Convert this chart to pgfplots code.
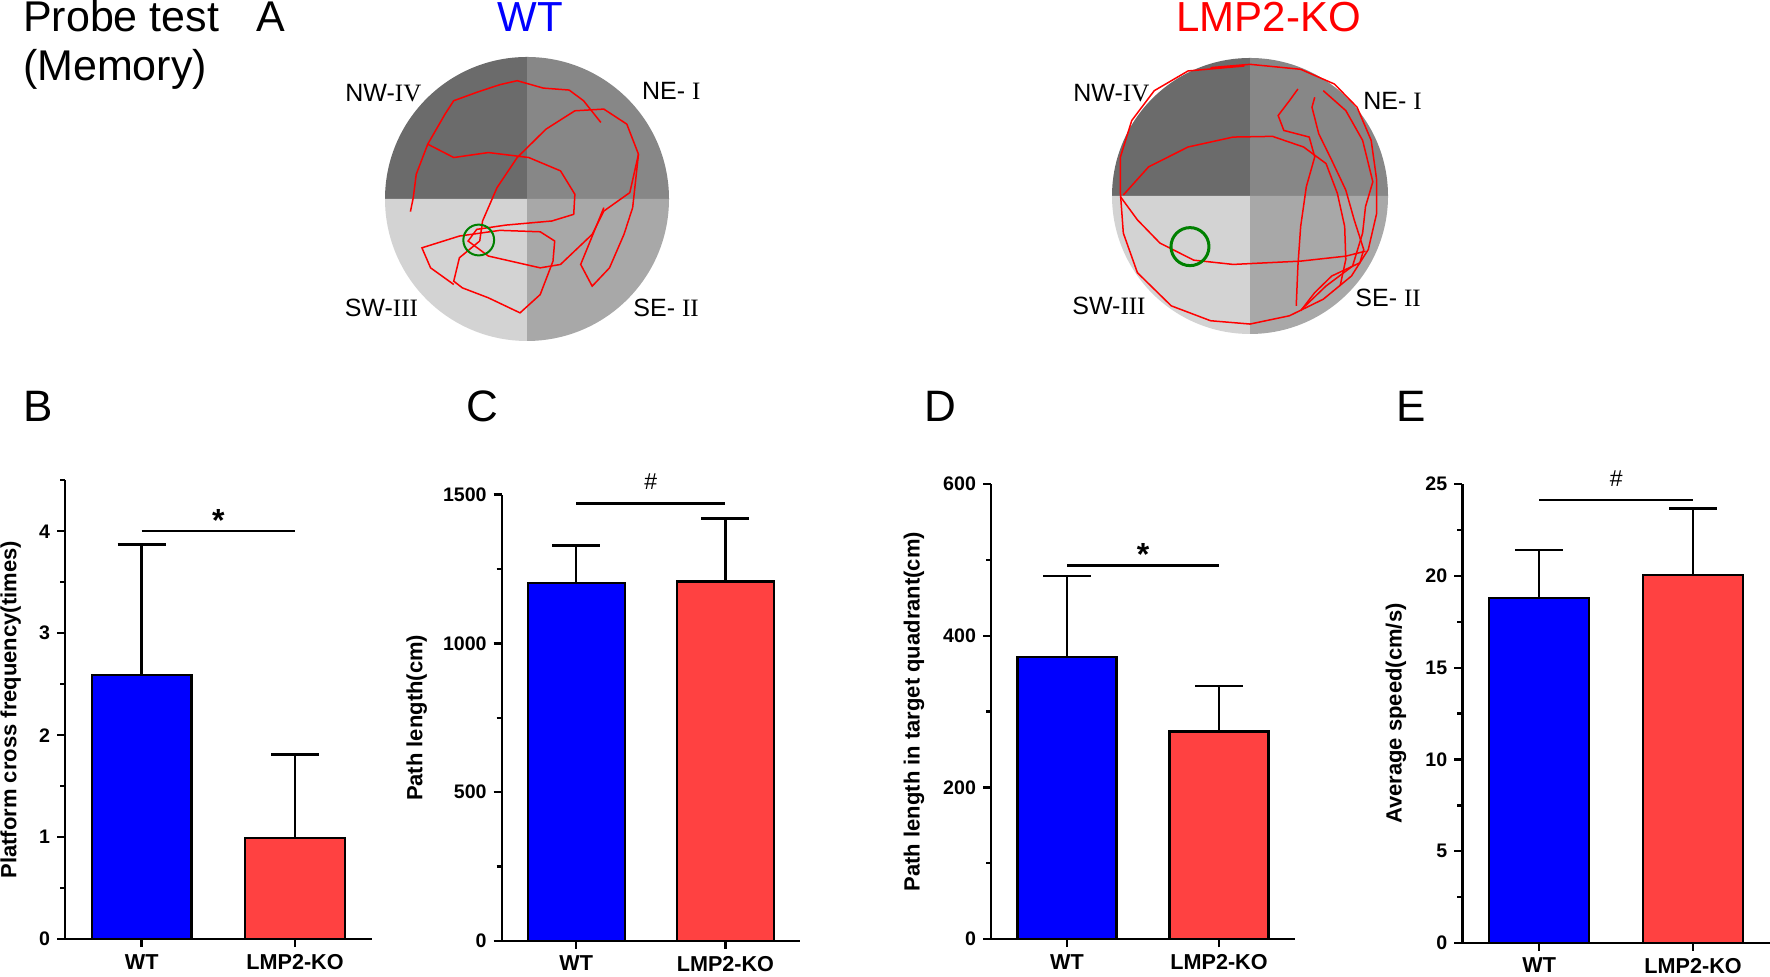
\documentclass[border=0pt]{standalone}
\usepackage{pgfplots}
\pgfplotsset{compat=1.18}
\usepackage{fontspec}
\setmainfont{Liberation Sans}
\newfontfamily\serif{Liberation Serif}
\definecolor{qnw}{RGB}{107,107,107}
\definecolor{qne}{RGB}{135,135,135}
\definecolor{qsw}{RGB}{211,211,211}
\definecolor{qse}{RGB}{168,168,168}
\definecolor{barblue}{RGB}{0,0,255}
\definecolor{barred}{RGB}{255,65,65}
\definecolor{plat}{RGB}{0,128,0}
\definecolor{track}{RGB}{255,0,0}

\pgfplotsset{
 barax/.style={scale only axis, xmin=-0.5, xmax=1.5, ymin=0, clip=false,
  axis x line=bottom, axis y line=left, axis line style={-, line width=1.2pt, black},
  xtick={0,1}, xticklabels={WT,LMP2-KO},
  tick align=outside, major tick length=4pt, minor tick length=2.5pt,
  tick style={black, line width=1.2pt},
  minor tick style={black, line width=1.2pt},
  /pgf/number format/1000 sep={},
  /pgf/number format/assume math mode=true,
  y tick label style={font=\fontsize{9.8}{11}\selectfont\bfseries},
  x tick label style={font=\fontsize{10.8}{12}\selectfont\bfseries},
 },
 wtbar/.style={ybar, bar width=0.65, bar shift=0pt, fill=barblue, draw=black, line width=1.2pt,
  error bars/.cd, y dir=plus, y explicit, error bar style={line width=1.2pt, black},
  error mark options={rotate=90, mark size=12pt, line width=1.2pt, black}},
 kobar/.style={ybar, bar width=0.65, bar shift=0pt, fill=barred, draw=black, line width=1.2pt,
  error bars/.cd, y dir=plus, y explicit, error bar style={line width=1.2pt, black},
  error mark options={rotate=90, mark size=12pt, line width=1.2pt, black}},
 sig/.style={black, line width=1.2pt, mark=none},
 maze/.style={scale only axis, xmin=-1, xmax=1, ymin=-1, ymax=1, hide axis, clip=false},
 trk/.style={track, line width=0.75pt, mark=none, sharp plot},
}
\newcommand{\ylab}[1]{\fontsize{11}{13}\selectfont\bfseries #1}
\newcommand{\qlab}{\fontsize{12.5}{14}\selectfont}

\begin{document}
\begin{tikzpicture}
\useasboundingbox (0,0) rectangle (885pt,488.5pt);

% ---------- header texts ----------
\node[anchor=base west, inner sep=0, font=\fontsize{21.5}{24}\selectfont] at (11.35pt,472.6pt) {Probe test};
\node[anchor=base west, inner sep=0, font=\fontsize{21.5}{24}\selectfont] at (11.35pt,448pt) {(Memory)};
\node[anchor=base west, inner sep=0, font=\fontsize{21.5}{24}\selectfont] at (128pt,472.6pt) {A};
\node[anchor=base, inner sep=0, font=\fontsize{21}{24}\selectfont, text=blue] at (265.25pt,472.6pt) {WT};
\node[anchor=base, inner sep=0, font=\fontsize{21}{24}\selectfont, text=red] at (634.25pt,472.6pt) {LMP2-KO};

% ---------- WT maze ----------
\begin{axis}[maze, at={(263.5pt,389pt)}, anchor=center, width=142pt, height=142pt]
\fill[qnw] (axis cs:0,0) -- (axis cs:0,1) arc[start angle=90, end angle=180, radius=71pt] -- cycle;
\fill[qne] (axis cs:0,0) -- (axis cs:1,0) arc[start angle=0, end angle=90, radius=71pt] -- cycle;
\fill[qsw] (axis cs:0,0) -- (axis cs:-1,0) arc[start angle=180, end angle=270, radius=71pt] -- cycle;
\fill[qse] (axis cs:0,0) -- (axis cs:0,-1) arc[start angle=270, end angle=360, radius=71pt] -- cycle;
\addplot[trk] coordinates {(-0.821,-0.089) (-0.801,0.009) (-0.780,0.174) (-0.699,0.386) (-0.577,0.598) (-0.516,0.692) (-0.354,0.751) (-0.191,0.805) (-0.069,0.833) (0.114,0.781) (0.297,0.767) (0.398,0.692) (0.520,0.539)};
\addplot[trk] coordinates {(-0.699,0.386) (-0.516,0.292) (-0.272,0.327) (0.012,0.292) (0.236,0.198) (0.337,0.033) (0.329,-0.108) (0.175,-0.155) (-0.150,-0.184) (-0.354,-0.214) (-0.415,-0.296) (-0.272,-0.402) (0.093,-0.485) (0.236,-0.461) (0.459,-0.249) (0.541,-0.085) (0.724,0.045) (0.785,0.315) (0.703,0.527) (0.541,0.633) (0.337,0.621) (0.134,0.492) (-0.069,0.292) (-0.211,0.080) (-0.313,-0.155) (-0.333,-0.296)};
\addplot[trk] coordinates {(-0.333,-0.296) (-0.476,-0.414) (-0.516,-0.579) (-0.455,-0.626) (-0.272,-0.696) (-0.049,-0.802) (0.093,-0.673) (0.183,-0.438) (0.195,-0.296) (0.093,-0.231) (-0.191,-0.221) (-0.476,-0.261) (-0.740,-0.344) (-0.679,-0.485) (-0.516,-0.602)};
\addplot[trk] coordinates {(0.785,0.315) (0.744,-0.061) (0.683,-0.249) (0.581,-0.485) (0.459,-0.614) (0.378,-0.461) (0.541,-0.061)};
\addplot[only marks, mark=o, mark size=7.7pt, plat, line width=1pt] coordinates {(-0.34,-0.289)};
\end{axis}
\node[anchor=base west, inner sep=0, font=\qlab] at (172.5pt,437.65pt) {NW-{\serif IV}};
\node[anchor=base west, inner sep=0, font=\qlab] at (320.85pt,438.5pt) {NE-\ {\serif I}};
\node[anchor=base west, inner sep=0, font=\qlab] at (172.2pt,330.15pt) {SW-{\serif III}};
\node[anchor=base west, inner sep=0, font=\qlab] at (316.5pt,330.15pt) {SE-\ {\serif II}};

% ---------- KO maze ----------
\begin{axis}[maze, at={(625pt,390.5pt)}, anchor=center, width=138pt, height=138pt]
\fill[qnw] (axis cs:0,0) -- (axis cs:0,1) arc[start angle=90, end angle=180, radius=69pt] -- cycle;
\fill[qne] (axis cs:0,0) -- (axis cs:1,0) arc[start angle=0, end angle=90, radius=69pt] -- cycle;
\fill[qsw] (axis cs:0,0) -- (axis cs:-1,0) arc[start angle=180, end angle=270, radius=69pt] -- cycle;
\fill[qse] (axis cs:0,0) -- (axis cs:0,-1) arc[start angle=270, end angle=360, radius=69pt] -- cycle;
\addplot[trk] coordinates {(-0.041,0.942) (-0.449,0.906) (-0.694,0.763) (-0.857,0.547) (-0.939,0.283) (-0.939,0.019) (-0.918,-0.269) (-0.816,-0.556) (-0.571,-0.796) (-0.286,-0.904) (0,-0.928) (0.286,-0.868) (0.531,-0.748) (0.735,-0.580) (0.857,-0.388) (0.918,-0.125) (0.918,0.115) (0.878,0.403) (0.776,0.643) (0.612,0.811) (0.367,0.918) (0,0.954) (-0.286,0.930)};
\addplot[trk] coordinates {(-0.918,0.007) (-0.735,0.211) (-0.449,0.355) (-0.122,0.427) (0.163,0.432) (0.388,0.355) (0.551,0.235) (0.633,0.019) (0.686,-0.221) (0.694,-0.460) (0.653,-0.652)};
\addplot[trk] coordinates {(-0.939,-0.005) (-0.816,-0.173) (-0.653,-0.341) (-0.408,-0.465) (-0.122,-0.496) (0.367,-0.472) (0.694,-0.436) (0.837,-0.400)};
\addplot[trk] coordinates {(0.347,0.775) (0.286,0.691) (0.204,0.583) (0.245,0.475) (0.429,0.427) (0.469,0.283) (0.408,0.067) (0.367,-0.221) (0.347,-0.508) (0.335,-0.796)};
\addplot[trk] coordinates {(0.469,0.715) (0.449,0.643) (0.498,0.451) (0.592,0.259) (0.694,0.043) (0.755,-0.173) (0.824,-0.388) (0.796,-0.484) (0.592,-0.580) (0.469,-0.700) (0.367,-0.832)};
\addplot[trk] coordinates {(0.531,0.763) (0.694,0.619) (0.816,0.403) (0.890,0.103) (0.837,-0.077) (0.816,-0.269) (0.743,-0.508) (0.551,-0.652) (0.376,-0.820)};
\addplot[only marks, mark=o, mark size=9.5pt, plat, line width=1.5pt] coordinates {(-0.435,-0.367)};
\end{axis}
\node[anchor=base west, inner sep=0, font=\qlab] at (536.5pt,437.65pt) {NW-{\serif IV}};
\node[anchor=base west, inner sep=0, font=\qlab] at (681.5pt,433.5pt) {NE-\ {\serif I}};
\node[anchor=base west, inner sep=0, font=\qlab] at (536pt,331pt) {SW-{\serif III}};
\node[anchor=base west, inner sep=0, font=\qlab] at (677.5pt,335.15pt) {SE-\ {\serif II}};

% ---------- panel letters ----------
\node[anchor=base west, inner sep=0, font=\fontsize{22}{26}\selectfont] at (11.5pt,277.5pt) {B};
\node[anchor=base west, inner sep=0, font=\fontsize{22}{26}\selectfont] at (233pt,277.5pt) {C};
\node[anchor=base west, inner sep=0, font=\fontsize{22}{26}\selectfont] at (462pt,277.5pt) {D};
\node[anchor=base west, inner sep=0, font=\fontsize{22}{26}\selectfont] at (698pt,277.5pt) {E};

% ---------- B ----------
\begin{axis}[barax, at={(32.5pt,18.95pt)}, anchor=south west, width=153.35pt, height=229.4pt,
  ymax=4.5, ytick={0,1,2,3,4}, minor ytick={0.5,1.5,2.5,3.5,4.5}]
\addplot[wtbar] coordinates {(0,2.59) +- (0,1.28)};
\addplot[kobar] coordinates {(1,0.99) +- (0,0.82)};
\addplot[sig] coordinates {(0,4.0) (1,4.0)};
\node[anchor=base, inner sep=0, font=\fontsize{16}{18}\selectfont\bfseries] at (axis cs:0.5,4.0) {*};
\node[rotate=90, anchor=center, inner sep=0] at (axis description cs:-0.177,0.5) {\ylab{Platform cross frequency(times)}};
\end{axis}

% ---------- C ----------
\begin{axis}[barax, at={(250.85pt,18pt)}, anchor=south west, width=149.15pt, height=223.15pt,
  ymax=1500, ytick={0,500,1000,1500}, minor ytick={250,750,1250}]
\addplot[wtbar] coordinates {(0,1203) +- (0,126)};
\addplot[kobar] coordinates {(1,1208) +- (0,212)};
\addplot[sig] coordinates {(0,1470) (1,1470)};
\node[anchor=base, inner sep=0, font=\fontsize{11.5}{13}\selectfont] at (axis cs:0.5,1516) {\#};
\node[rotate=90, anchor=center, inner sep=0] at (axis description cs:-0.285,0.5) {\ylab{Path length(cm)}};
\end{axis}

% ---------- D ----------
\begin{axis}[barax, at={(495.5pt,18.95pt)}, anchor=south west, width=152pt, height=227.45pt,
  ymax=600, ytick={0,200,400,600}, minor ytick={100,300,500}]
\addplot[wtbar] coordinates {(0,372) +- (0,107)};
\addplot[kobar] coordinates {(1,274) +- (0,60)};
\addplot[sig] coordinates {(0,493) (1,493)};
\node[anchor=base, inner sep=0, font=\fontsize{16}{18}\selectfont\bfseries] at (axis cs:0.5,493) {*};
\node[rotate=90, anchor=center, inner sep=0] at (axis description cs:-0.253,0.5) {\ylab{Path length in target quadrant(cm)}};
\end{axis}

% ---------- E ----------
\begin{axis}[barax, at={(731.15pt,17pt)}, anchor=south west, width=153.85pt, height=229.4pt,
  ymax=25, ytick={0,5,10,15,20,25}, minor ytick={2.5,7.5,12.5,17.5,22.5}]
\addplot[wtbar] coordinates {(0,18.8) +- (0,2.63)};
\addplot[kobar] coordinates {(1,20.06) +- (0,3.62)};
\addplot[sig] coordinates {(0,24.14) (1,24.14)};
\node[anchor=base, inner sep=0, font=\fontsize{11.5}{13}\selectfont] at (axis cs:0.5,24.9) {\#};
\node[rotate=90, anchor=center, inner sep=0] at (axis description cs:-0.2155,0.5) {\ylab{Average speed(cm/s)}};
\end{axis}
\end{tikzpicture}
\end{document}
